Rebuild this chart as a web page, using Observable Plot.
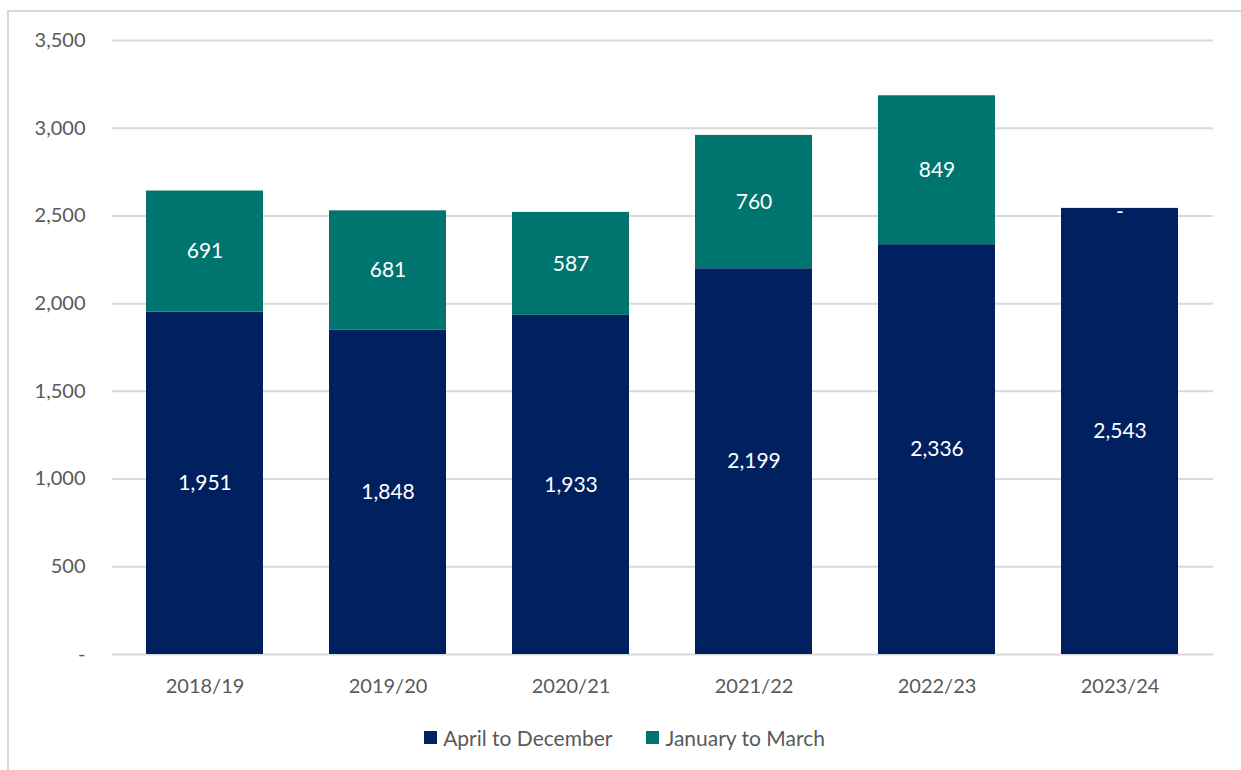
<!DOCTYPE html>
<html>
<head>
<meta charset="utf-8">
<script src="https://cdn.jsdelivr.net/npm/d3@7"></script>
<script src="https://cdn.jsdelivr.net/npm/@observablehq/plot@0.6"></script>
<style>
  body { margin: 0; background: #fff; font-family: Lato, "Open Sans", sans-serif; }
  #frame { position: absolute; left: 7px; top: 10px; width: 1300px; height: 800px; border: 2px solid #d9d9d9; box-sizing: border-box; }
  #chart { position: absolute; left: 0; top: 0; }
  #legend { position: absolute; top: 725px; left: 0; width: 1241px; display: flex; justify-content: center; gap: 34px; font-size: 21px; color: #595959; margin-left: 4px; }
  .item { display: flex; align-items: center; gap: 6px; }
  .sw { width: 13px; height: 13px; display: inline-block; }
</style>
</head>
<body>
<div id="frame"></div>
<div id="chart"></div>
<div id="legend"></div>
<script>
const years = ["2018/19", "2019/20", "2020/21", "2021/22", "2022/23", "2023/24"];
const aprilToDecember = [1951, 1848, 1933, 2199, 2336, 2543];
const januaryToMarch = [691, 681, 587, 760, 849, 0];
const seriesNames = ["April to December", "January to March"];
const seriesColors = ["#002060", "#00746F"];
const yTicks = [0, 500, 1000, 1500, 2000, 2500, 3000, 3500];

const data = [];
years.forEach((y, i) => {
  data.push({year: y, series: seriesNames[0], value: aprilToDecember[i], top: aprilToDecember[i]});
  data.push({year: y, series: seriesNames[1], value: januaryToMarch[i], top: aprilToDecember[i] + januaryToMarch[i]});
});
const zeroRows = data.filter(d => d.value === 0);

const fmt = d3.format(",");
const labelText = d => d.value === 0 ? "-" : fmt(d.value);
const plot = Plot.plot({
  width: 1241,
  height: 700,
  marginLeft: 112,
  marginRight: 28,
  marginTop: 40,
  marginBottom: 46,
  style: {fontFamily: "Lato, 'Open Sans', sans-serif", fontSize: "20px", color: "#595959", background: "transparent"},
  x: {domain: years, label: null, paddingInner: 0.36, paddingOuter: 0.18, tickSize: 0, tickPadding: 24},
  y: {domain: [0, 3500], ticks: yTicks, label: null, tickSize: 0, tickPadding: 27,
      tickFormat: d => d === 0 ? "-" : fmt(d)},
  color: {domain: seriesNames, range: seriesColors},
  marks: [
    Plot.gridY(yTicks, {stroke: "#d9d9d9", strokeOpacity: 1, strokeWidth: 2}),
    Plot.barY(data, Plot.stackY({x: "year", y: "value", fill: "series", z: "series", order: seriesNames})),
    Plot.text(data, Plot.stackY({x: "year", y: "value", z: "series", order: seriesNames,
      text: d => d.value === 0 ? "" : fmt(d.value), fill: "white", fontSize: 21})),
    Plot.text(zeroRows, {x: "year", y: "top", text: labelText, fill: "white", fontSize: 21, dy: 4})
  ]
});
document.getElementById("chart").appendChild(plot);

const legend = document.getElementById("legend");
seriesNames.forEach((n, i) => {
  const it = document.createElement("div");
  it.className = "item";
  it.innerHTML = `<span class="sw" style="background:${seriesColors[i]}"></span><span>${n}</span>`;
  legend.appendChild(it);
});
</script>
</body>
</html>
